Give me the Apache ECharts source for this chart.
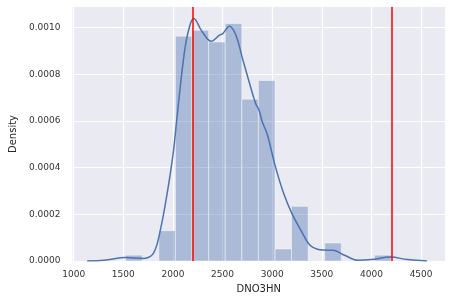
<!DOCTYPE html>
<html>
<head>
<meta charset="utf-8">
<script src="https://cdn.jsdelivr.net/npm/echarts@6/dist/echarts.min.js"></script>
<style>html,body{margin:0;padding:0;background:#fff}#c{width:451px;height:303px}</style>
</head>
<body>
<div id="c"></div>
<script>
// Histogram bin edges (DNO3HN) and density per bin
const binEdges = [1524, 1691, 1858, 2025, 2192, 2360, 2527, 2694, 2861, 3028, 3195, 3362, 3529, 3696, 3863, 4030, 4198];
const binDensity = [0.0000250, 0, 0.000130, 0.000963, 0.000988, 0.000938, 0.001017, 0.000693, 0.000773, 0.0000514, 0.000234, 0, 0.0000771, 0, 0, 0.0000250];
// KDE curve samples
const kdeX = [1136, 1308, 1524, 1706, 1773, 1806, 1839, 1872, 1905, 1938, 1972, 2005, 2038, 2072, 2121, 2171, 2211, 2286, 2386, 2469, 2502, 2569, 2635, 2701, 2768, 2834, 2868, 2900, 2950, 3033, 3116, 3199, 3298, 3381, 3464, 3564, 3614, 3729, 3862, 3995, 4194, 4360, 4559];
const kdeY = [0.000000, 0.000003, 0.0000146, 0.000011, 0.000020, 0.000035, 0.000070, 0.000130, 0.000200, 0.000280, 0.000370, 0.000470, 0.000603, 0.000739, 0.000910, 0.001010, 0.001039, 0.000988, 0.000941, 0.000967, 0.000974, 0.001006, 0.000967, 0.000867, 0.000767, 0.000674, 0.000646, 0.000596, 0.000543, 0.000403, 0.000289, 0.000203, 0.000125, 0.000067, 0.000049, 0.000046, 0.000046, 0.0000244, 0.000003, 0.000006, 0.000017, 0.000006, 0.000000];
// Reference vertical lines
const vLines = [2200, 4200];
// Tick labels
const xTicks = [1000, 1500, 2000, 2500, 3000, 3500, 4000, 4500];
const yTicks = [0, 0.0002, 0.0004, 0.0006, 0.0008, 0.0010];

const histData = [];
for (let i = 0; i < binDensity.length; i++) {
  if (binDensity[i] > 0) histData.push([binEdges[i], binEdges[i + 1], binDensity[i]]);
}
const kdeData = kdeX.map((x, i) => [x, kdeY[i]]);

const font = 'DejaVu Sans';
const chart = echarts.init(document.getElementById('c'), null, {renderer: 'canvas'});
chart.setOption({
  animation: false,
  backgroundColor: '#ffffff',
  grid: {left: 68, top: 7, width: 377, height: 254, show: true, backgroundColor: '#EAEAF2', borderWidth: 0, containLabel: false},
  xAxis: {
    type: 'value', min: 987, max: 4741,
    name: 'DNO3HN', nameLocation: 'middle', nameGap: 23,
    nameTextStyle: {fontFamily: font, fontSize: 10, color: '#262626'},
    axisLine: {show: false},
    axisTick: {show: false, customValues: xTicks},
    axisLabel: {customValues: xTicks, fontFamily: font, fontSize: 9, color: '#333', margin: 9, formatter: v => String(v)},
    splitLine: {show: true, lineStyle: {color: '#ffffff', width: 1.2}}
  },
  yAxis: {
    type: 'value', min: 0, max: 0.001088,
    name: 'Density', nameLocation: 'middle', nameGap: 49, nameRotate: 90,
    nameTextStyle: {fontFamily: font, fontSize: 10, color: '#262626'},
    axisLine: {show: false},
    axisTick: {show: false, customValues: yTicks},
    axisLabel: {customValues: yTicks, fontFamily: font, fontSize: 9, color: '#333', margin: 12, formatter: v => v.toFixed(4)},
    splitLine: {show: true, lineStyle: {color: '#ffffff', width: 1.2}}
  },
  series: [
    {
      type: 'custom',
      data: histData,
      encode: {x: [0, 1], y: 2},
      clip: true,
      renderItem: function (params, api) {
        const p0 = api.coord([api.value(0), api.value(2)]);
        const p1 = api.coord([api.value(1), 0]);
        return {
          type: 'rect',
          shape: {x: p0[0], y: p0[1], width: p1[0] - p0[0], height: p1[1] - p0[1]},
          style: {fill: 'rgba(76,114,176,0.4)', stroke: 'rgba(255,255,255,0.45)', lineWidth: 1}
        };
      },
      z: 1
    },
    {
      type: 'line',
      data: kdeData,
      smooth: 0.35,
      showSymbol: false,
      symbol: 'none',
      lineStyle: {color: '#4C72B0', width: 1.5},
      z: 2,
      markLine: {
        silent: true,
        symbol: ['none', 'none'],
        label: {show: false},
        lineStyle: {color: '#FF0000', width: 1.5, type: 'solid'},
        data: vLines.map(v => ({xAxis: v})),
        z: 3
      }
    }
  ]
});
</script>
</body>
</html>
